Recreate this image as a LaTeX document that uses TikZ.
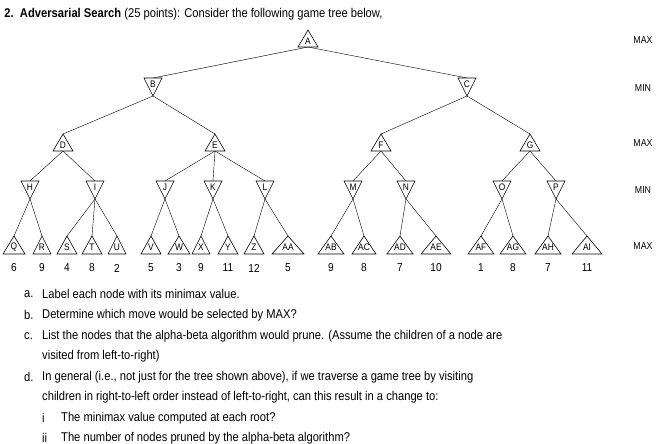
\documentclass[tikz,border=0pt]{standalone}
\usepackage{fontspec}
\setmainfont{Liberation Sans}[FakeStretch=0.88]
\usetikzlibrary{backgrounds}
\begin{document}
\begin{tikzpicture}[x=1pt,y=-1pt,line width=0.6pt,
  lab/.style={font=\fontsize{9.5}{9}\selectfont,inner sep=0pt},
  txt/.style={font=\fontsize{12.7}{14}\selectfont,anchor=west,inner sep=0pt},
  lvl/.style={font=\fontsize{10}{10}\selectfont,inner sep=0pt},
  val/.style={font=\fontsize{11.5}{12}\selectfont,inner sep=0pt}]
\useasboundingbox (0,0) rectangle (662,444);
\newcommand\upT[5]{%
  \draw[fill=white] (#2-#5,#3+7) -- (#2,#3-10) -- (#2+#5,#3+7) -- cycle;
  \coordinate (#1t) at (#2,#3-10); \coordinate (#1b) at (#2,#3+7);
  \node[lab] (#1) at (#2,#3+1) {#4};}
\newcommand\dnT[5]{%
  \draw[fill=white] (#2-#5,#3-8) -- (#2,#3+10) -- (#2+#5,#3-8) -- cycle;
  \coordinate (#1t) at (#2,#3-8); \coordinate (#1b) at (#2,#3+10);
  \node[lab] (#1) at (#2,#3-2) {#4};}
\newcommand\leaf[5]{%
  \draw[fill=white] (#2-#4,254) -- (#2,236) -- (#2+#4,254) -- cycle;
  \coordinate (#1t) at (#2,236);
  \node[lab] (#1) at (#2,247) {#3};
  \node[val] (#1v) at (#2,268) {#5};}
\node[txt] (title) at (4,14) {\textbf{2.\enspace Adversarial Search} (25 points): Consider the following game tree below,};
\upT{A}{308}{40}{A}{10}
\dnT{B}{153}{86}{B}{9}
\dnT{C}{467}{86}{C}{9}
\upT{D}{63}{144}{D}{10}
\upT{E}{215}{144}{E}{10}
\upT{F}{381}{144}{F}{10}
\upT{G}{530}{144}{G}{10}
\dnT{H}{30}{189}{H}{9}
\dnT{I}{95}{189}{I}{9}
\dnT{J}{165}{189}{J}{9}
\dnT{K}{213}{189}{K}{9}
\dnT{L}{265}{189}{L}{9}
\dnT{M}{353}{189}{M}{9}
\dnT{N}{406}{189}{N}{9}
\dnT{O}{502}{189}{O}{9}
\dnT{P}{556}{189}{P}{9}
\leaf{Q}{14}{Q}{11}{6}
\leaf{R}{42}{R}{9}{9}
\leaf{S}{67}{S}{10}{4}
\leaf{T}{92}{T}{10}{8}
\leaf{U}{117}{U}{9}{2}
\leaf{V}{151}{V}{10}{5}
\leaf{W}{179}{W}{11}{3}
\leaf{X}{201}{X}{9}{9}
\leaf{Y}{228}{Y}{10}{11}
\leaf{Z}{254}{Z}{10}{12}
\leaf{AA}{288}{AA}{16}{5}
\leaf{AB}{331}{AB}{13}{9}
\leaf{AC}{364}{AC}{12}{8}
\leaf{AD}{400}{AD}{13}{7}
\leaf{AE}{436}{AE}{15}{10}
\leaf{AF}{481}{AF}{13}{1}
\leaf{AG}{513}{AG}{13}{8}
\leaf{AH}{548}{AH}{13}{7}
\leaf{AI}{587}{AI}{15}{11}
\begin{pgfonlayer}{background}
\foreach \a/\b in {A/B,A/C,B/D,B/E,C/F,C/G,D/H,D/I,E/J,E/K,E/L,F/M,F/N,G/O,G/P,
  H/Q,H/R,I/S,I/T,I/U,J/V,J/W,K/X,K/Y,L/Z,L/AA,M/AB,M/AC,N/AD,N/AE,O/AF,O/AG,P/AH,P/AI}
  \draw (\a b) -- (\b t);
\end{pgfonlayer}
\node[lvl] (l1) at (643,40) {MAX};
\node[lvl] (l2) at (643,88) {MIN};
\node[lvl] (l3) at (643,143) {MAX};
\node[lvl] (l4) at (643,190) {MIN};
\node[lvl] (l5) at (643,246) {MAX};
\node[txt] (ta) at (24,294) {a.};
\node[txt] (a) at (42,294) {Label each node with its minimax value.};
\node[txt] (tb) at (24,315) {b.};
\node[txt] (b) at (42,315) {Determine which move would be selected by MAX?};
\node[txt] (tc) at (24,336) {c.};
\node[txt] (c) at (42,336) {List the nodes that the alpha-beta algorithm would prune. (Assume the children of a node are};
\node[txt] (c2) at (42,356) {visited from left-to-right)};
\node[txt] (td) at (24,377) {d.};
\node[txt] (d) at (42,377) {In general (i.e., not just for the tree shown above), if we traverse a game tree by visiting};
\node[txt] (d2) at (42,397) {children in right-to-left order instead of left-to-right, can this result in a change to:};
\node[txt] (ti) at (42,418) {i};
\node[txt] (i) at (61,418) {The minimax value computed at each root?};
\node[txt] (tii) at (42,438) {ii};
\node[txt] (ii) at (61,438) {The number of nodes pruned by the alpha-beta algorithm?};
\end{tikzpicture}
\end{document}
